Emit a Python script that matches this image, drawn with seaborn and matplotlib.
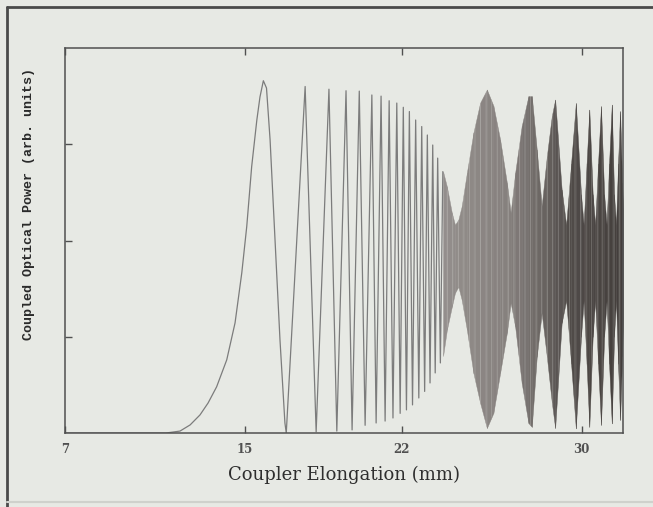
import numpy as np
import pandas as pd
import seaborn as sns
import matplotlib
matplotlib.use("Agg")
import matplotlib.pyplot as plt
from matplotlib.lines import Line2D

# ---- data (elongation in mm, coupled power in arbitrary units) ----
# onset of coupling and the first full power transfer
onset_x = [7.00, 11.50, 12.12, 12.57, 13.01, 13.37, 13.75, 14.20, 14.57, 14.87,
           15.09, 15.31, 15.54, 15.68, 15.83, 15.97, 16.13, 16.35, 16.57, 16.79, 16.85]
onset_y = [0.000, 0.000, 0.005, 0.021, 0.047, 0.078, 0.120, 0.190, 0.286, 0.416,
           0.536, 0.692, 0.813, 0.873, 0.915, 0.896, 0.761, 0.501, 0.242, 0.026, 0.000]

# resolved power-exchange fringes: maxima and the minima that follow them
peak_x = [17.69, 18.75, 19.51, 20.10, 20.66, 21.07, 21.43, 21.77, 22.06, 22.33,
          22.61, 22.88, 23.13, 23.37, 23.59, 23.82]
peak_y = [0.900, 0.893, 0.889, 0.888, 0.878, 0.875, 0.863, 0.857, 0.846, 0.835,
          0.813, 0.796, 0.774, 0.748, 0.714, 0.679]
trough_x = [18.18, 19.10, 19.78, 20.36, 20.85, 21.25, 21.60, 21.92, 22.20, 22.47,
            22.75, 23.01, 23.25, 23.48, 23.71]
trough_y = [0.003, 0.005, 0.008, 0.020, 0.026, 0.031, 0.039, 0.051, 0.060, 0.073,
            0.091, 0.108, 0.130, 0.156, 0.182]

# unresolved fast fringes: upper and lower envelope of the polarisation beat
env_x = [23.83, 24.00, 24.22, 24.36, 24.51, 24.66, 24.89, 25.18, 25.48, 25.78,
         26.07, 26.37, 26.67, 26.84, 27.04, 27.33, 27.63, 27.78, 28.00, 28.22,
         28.45, 28.67, 28.82, 29.11, 29.31, 29.53, 29.74, 29.97, 30.09, 30.22,
         30.34, 30.49, 30.60, 30.73, 30.86, 31.00, 31.11, 31.22, 31.34, 31.44,
         31.53, 31.62, 31.71, 31.80, 31.84]
env_upper = [0.679, 0.640, 0.572, 0.541, 0.554, 0.589, 0.676, 0.780, 0.858, 0.892,
             0.850, 0.762, 0.650, 0.572, 0.676, 0.797, 0.875, 0.875, 0.736, 0.589,
             0.719, 0.823, 0.866, 0.632, 0.540, 0.700, 0.857, 0.620, 0.540, 0.700,
             0.840, 0.620, 0.540, 0.700, 0.849, 0.620, 0.540, 0.700, 0.853, 0.620,
             0.540, 0.700, 0.836, 0.650, 0.580]
env_lower = [0.200, 0.268, 0.328, 0.364, 0.380, 0.346, 0.268, 0.156, 0.078, 0.013,
             0.052, 0.156, 0.260, 0.338, 0.276, 0.130, 0.026, 0.016, 0.198, 0.312,
             0.198, 0.080, 0.013, 0.286, 0.345, 0.180, 0.012, 0.250, 0.345, 0.180,
             0.016, 0.250, 0.345, 0.180, 0.021, 0.250, 0.345, 0.180, 0.025, 0.250,
             0.345, 0.180, 0.034, 0.200, 0.300]

x_ticks = [7, 15, 22, 30]
y_ticks = [0.25, 0.50, 0.75]

# ---- assemble the resolved trace ----
trace_x = list(onset_x)
trace_y = list(onset_y)
for i in range(len(peak_x)):
    trace_x.append(peak_x[i]); trace_y.append(peak_y[i])
    if i < len(trough_x):
        trace_x.append(trough_x[i]); trace_y.append(trough_y[i])
trace = pd.DataFrame({"elong": trace_x, "power": trace_y, "order": range(len(trace_x))})

# ---- figure ----
sns.set_style("ticks")
paper = "#e7e9e4"
plt.rcParams["font.family"] = ["DejaVu Serif"]
plt.rcParams["hatch.linewidth"] = 0.6

fig = plt.figure(figsize=(6.53, 5.07), dpi=100, facecolor=paper)
ax = fig.add_axes([65 / 653, 1 - 433 / 507, 558 / 653, 385 / 507])
ax.set_facecolor(paper)

sns.lineplot(data=trace, x="elong", y="power", sort=False, estimator=None,
             color="#7c7c7c", linewidth=0.9, ax=ax)

# beat region: shade darkens as the fringes pack more tightly
stops_x = [23.8, 26.8, 28.2, 29.3, 31.9]
stops_g = [0.56, 0.50, 0.40, 0.30, 0.24]
ex = np.asarray(env_x)
for i in range(len(ex) - 1):
    g = np.interp(0.5 * (ex[i] + ex[i + 1]), stops_x, stops_g)
    col = (g + 0.02, g, g - 0.01)
    ax.fill_between(ex[i:i + 2], env_lower[i:i + 2], env_upper[i:i + 2],
                    color=col, linewidth=0.3, edgecolor=col)
# fine vertical striation of the individual fringes
ax.fill_between(ex, env_lower, env_upper, facecolor="none",
                edgecolor=(0.9, 0.91, 0.89, 0.28), hatch="|||", linewidth=0)

ax.set_xlim(7, 31.84)
ax.set_ylim(0, 1)
ax.set_xticks(x_ticks)
ax.set_xticklabels([str(t) for t in x_ticks], fontsize=8.5, fontweight="bold",
                   color="#333333", family="DejaVu Serif")
ax.set_yticks(y_ticks)
ax.set_yticklabels([])
ax.tick_params(axis="x", direction="in", length=5, width=1, top=True, pad=7,
               colors="#505050")
ax.tick_params(axis="y", direction="in", length=5, width=1, right=False,
               colors="#505050")
for s in ax.spines.values():
    s.set_color("#505050")
    s.set_linewidth(1.1)

ax.set_xlabel("Coupler Elongation (mm)", fontsize=13, color="#2e2e2e",
              family="DejaVu Serif")
ax.xaxis.set_label_coords(0.5, -0.086)
ax.set_ylabel("Coupled Optical Power (arb. units)", fontsize=9.6,
              fontweight="bold", color="#2a2a2a", family="Liberation Mono")
ax.yaxis.set_label_coords(-0.054, 0.595)

# page frame
fig.add_artist(Line2D([7 / 653, 1.0], [1 - 7 / 507, 1 - 7 / 507],
                      transform=fig.transFigure, color="#4a4a4a", linewidth=2))
fig.add_artist(Line2D([7 / 653, 7 / 653], [0.0, 1 - 7 / 507],
                      transform=fig.transFigure, color="#4a4a4a", linewidth=2))
fig.add_artist(Line2D([7 / 653, 1.0], [5 / 507, 5 / 507],
                      transform=fig.transFigure, color="#cfd1cc", linewidth=1.5))

fig.savefig("out.png", dpi=100, facecolor=paper)
